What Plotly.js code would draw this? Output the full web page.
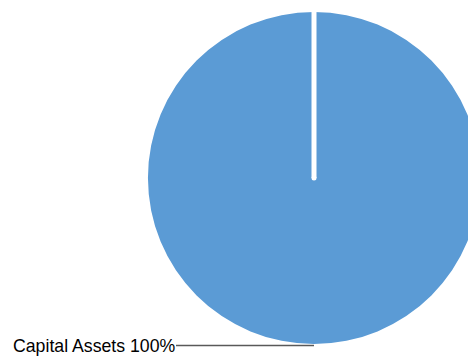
<!DOCTYPE html>
<html>
<head>
<meta charset="utf-8">
<script src="https://cdn.plot.ly/plotly-3.0.1.min.js"></script>
<style>
html,body{margin:0;padding:0;overflow:hidden;background:#fff;}
#chart{width:480px;height:358px;}
</style>
</head>
<body>
<div id="chart"></div>
<script>
// Data
var categories = ['Capital Assets'];
var values = [100];
var colors = ['#5B9BD5'];

var total = values.reduce(function(a,b){return a+b;},0);
var labelText = categories[0] + ' ' + Math.round(values[0] / total * 100) + '%';

var W = 480, H = 358;
var domX = [148 / W, 1];
var domY = [(H - 344) / H, (H - 12) / H];
var cx = (domX[0] + domX[1]) / 2;
var cy = (domY[0] + domY[1]) / 2;

var trace = {
  type: 'pie',
  labels: categories,
  values: values,
  marker: {colors: colors, line: {width: 0}},
  sort: false,
  direction: 'clockwise',
  rotation: 0,
  textinfo: 'none',
  hoverinfo: 'none',
  showlegend: false,
  domain: {x: domX, y: domY}
};

var layout = {
  width: W,
  height: H,
  margin: {l: 0, r: 0, t: 0, b: 0, pad: 0},
  paper_bgcolor: '#ffffff',
  plot_bgcolor: '#ffffff',
  showlegend: false,
  shapes: [
    {type: 'line', xref: 'paper', yref: 'paper', x0: cx, x1: cx, y0: cy, y1: domY[1] + 0.01,
     line: {color: '#ffffff', width: 5}},
    {type: 'circle', xref: 'paper', yref: 'paper',
     x0: cx - 2.5 / W, x1: cx + 2.5 / W, y0: cy - 2.5 / H, y1: cy + 2.5 / H,
     fillcolor: '#ffffff', line: {width: 0}}
  ],
  annotations: [{
    xref: 'paper', yref: 'paper',
    x: cx, y: (H - 345.5) / H,
    text: labelText,
    showarrow: true,
    arrowhead: 0,
    arrowwidth: 1.3,
    arrowcolor: '#595959',
    ax: -220, ay: 0,
    font: {family: '"Liberation Sans", Arial, sans-serif', size: 17.7, color: '#000000'},
    borderpad: 0
  }]
};

Plotly.newPlot('chart', [trace], layout, {displayModeBar: false, staticPlot: true});
</script>
</body>
</html>
